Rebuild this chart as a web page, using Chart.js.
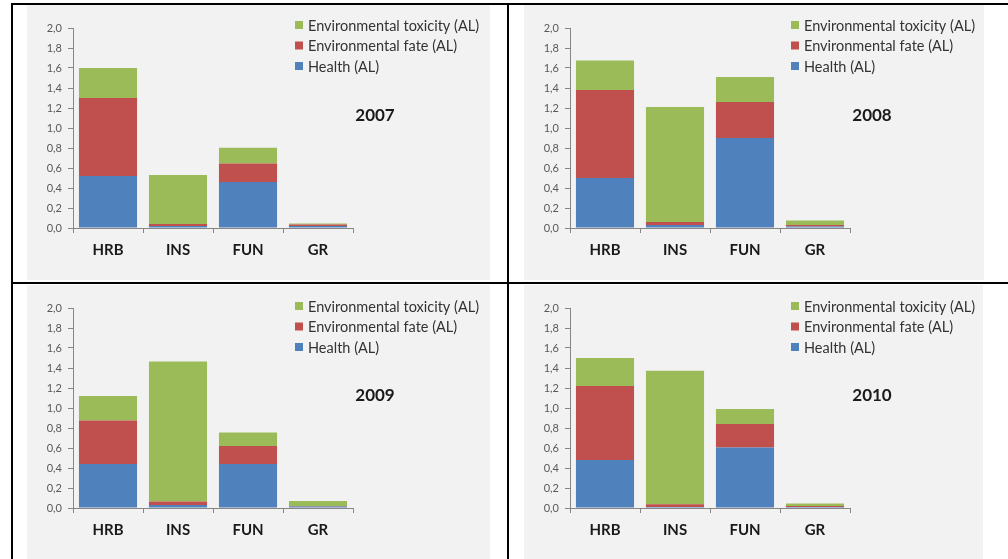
<!DOCTYPE html>
<html>
<head>
<meta charset="utf-8">
<script src="https://cdn.jsdelivr.net/npm/chart.js@4.4.1/dist/chart.umd.min.js"></script>
<style>
  body { margin: 0; background: #fff; width: 1008px; height: 559px; overflow: hidden; position: relative; }
  .panel { position: absolute; background: #f2f2f2; }
  .line { position: absolute; background: #000; }
</style>
</head>
<body>
<div class="line" style="left:11px;top:3px;width:997px;height:2px"></div>
<div class="line" style="left:11px;top:3px;width:2px;height:556px"></div>
<div class="line" style="left:507px;top:3px;width:2px;height:556px"></div>
<div class="line" style="left:11px;top:282px;width:997px;height:2px"></div>

<div class="panel" style="left:27px;top:5px;width:463px;height:275px"><canvas id="c2007"></canvas></div>
<div class="panel" style="left:524px;top:5px;width:460px;height:275px"><canvas id="c2008"></canvas></div>
<div class="panel" style="left:27px;top:285px;width:463px;height:274px"><canvas id="c2009"></canvas></div>
<div class="panel" style="left:524px;top:285px;width:459px;height:274px"><canvas id="c2010"></canvas></div>

<script>
// categories and series
const categories = ['HRB', 'INS', 'FUN', 'GR'];
const seriesNames = ['Health (AL)', 'Environmental fate (AL)', 'Environmental toxicity (AL)'];

const health2007 = [0.52, 0.02, 0.46, 0.02];
const fate2007   = [0.78, 0.02, 0.185, 0.015];
const tox2007    = [0.30, 0.49, 0.157, 0.01];

const health2008 = [0.50, 0.03, 0.90, 0.015];
const fate2008   = [0.88, 0.03, 0.36, 0.015];
const tox2008    = [0.295, 1.15, 0.25, 0.045];

const health2009 = [0.44, 0.03, 0.44, 0.015];
const fate2009   = [0.435, 0.035, 0.18, 0.005];
const tox2009    = [0.245, 1.40, 0.135, 0.05];

const health2010 = [0.48, 0.01, 0.605, 0.01];
const fate2010   = [0.74, 0.027, 0.235, 0.01];
const tox2010    = [0.28, 1.335, 0.15, 0.025];

const yTicks = [0, 0.2, 0.4, 0.6, 0.8, 1.0, 1.2, 1.4, 1.6, 1.8, 2.0];

const colors = ['#4f81bd', '#c0504d', '#9bbb59'];
const font = 'Lato, "Open Sans", sans-serif';

// legend + year label drawn onto the canvas
const overlayPlugin = {
    id: 'overlay',
    afterDraw(chart, args, opts) {
        const ctx = chart.ctx;
        ctx.save();
        ctx.font = '14.5px ' + font;
        ctx.textBaseline = 'middle';
        ctx.textAlign = 'left';
        const ds = chart.data.datasets.slice().reverse();
        ds.forEach((d, i) => {
            const y = opts.legendTop + i * 20.5;
            ctx.fillStyle = d.backgroundColor;
            ctx.fillRect(opts.legendLeft, y - 4, 8, 8);
            ctx.fillStyle = '#333';
            ctx.fillText(d.label, opts.legendLeft + 13, y + 1);
        });
        ctx.font = 'bold 17px ' + font;
        ctx.textAlign = 'center';
        ctx.fillStyle = '#1a1a1a';
        ctx.fillText(opts.year, opts.yearX, opts.yearY);
        ctx.restore();
    }
};

function makeChart(id, year, health, fate, tox, w, h, legendLeft, legendTop) {
    const canvas = document.getElementById(id);
    canvas.width = w;
    canvas.height = h;
    canvas.style.width = w + 'px';
    canvas.style.height = h + 'px';
    return new Chart(canvas.getContext('2d'), {
        type: 'bar',
        data: {
            labels: categories,
            datasets: [
                { label: seriesNames[0], data: health, backgroundColor: colors[0] },
                { label: seriesNames[1], data: fate, backgroundColor: colors[1] },
                { label: seriesNames[2], data: tox, backgroundColor: colors[2] },
            ],
        },
        options: {
            responsive: false,
            animation: false,
            layout: { padding: { left: 0, top: 23, right: w - 326, bottom: 0 } },
            datasets: { bar: { categoryPercentage: 1, barPercentage: 0.83, borderWidth: 0 } },
            plugins: {
                legend: { display: false },
                tooltip: { enabled: false },
                overlay: { year: year, yearX: 348, yearY: 111, legendLeft: legendLeft, legendTop: legendTop },
            },
            scales: {
                x: {
                    stacked: true,
                    afterFit: (s) => { s.height = h - 223; },
                    grid: { drawOnChartArea: false, color: '#868686', tickLength: 5, offset: true },
                    border: { color: '#868686' },
                    ticks: { color: '#1a1a1a', padding: 8, font: { family: font, size: 15, weight: 'bold' } },
                },
                y: {
                    stacked: true,
                    min: 0,
                    max: 2,
                    afterFit: (s) => { s.width = 46; },
                    afterBuildTicks: (s) => { s.ticks = yTicks.map(v => ({ value: v })); },
                    grid: { drawOnChartArea: false, color: '#868686', tickLength: 5 },
                    border: { color: '#868686' },
                    ticks: {
                        color: '#595959', padding: 6,
                        font: { family: font, size: 11 },
                        callback: (v) => v.toFixed(1).replace('.', ','),
                    },
                },
            },
        },
        plugins: [overlayPlugin],
    });
}

makeChart('c2007', '2007', health2007, fate2007, tox2007, 463, 275, 268, 20);
makeChart('c2008', '2008', health2008, fate2008, tox2008, 460, 275, 267, 20);
makeChart('c2009', '2009', health2009, fate2009, tox2009, 463, 274, 268, 21);
makeChart('c2010', '2010', health2010, fate2010, tox2010, 459, 274, 267, 21);
</script>
</body>
</html>
